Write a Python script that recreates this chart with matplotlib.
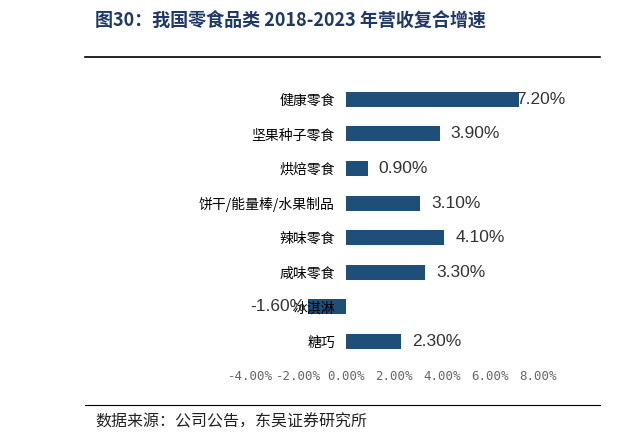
import matplotlib
matplotlib.use("Agg")
import matplotlib.pyplot as plt
from matplotlib.lines import Line2D

plt.rcParams['font.family'] = ['Noto Sans CJK SC', 'DejaVu Sans']

categories = ["健康零食", "坚果种子零食", "烘焙零食", "饼干/能量棒/水果制品", "辣味零食", "咸味零食", "冰淇淋", "糖巧"]
values = [7.20, 3.90, 0.90, 3.10, 4.10, 3.30, -1.60, 2.30]
xticks = [-4, -2, 0, 2, 4, 6, 8]

fig = plt.figure(figsize=(6.22, 4.43), dpi=100)
ax = fig.add_axes([0.402, 0.190, 0.463, 0.625])
y = list(range(len(categories)))
ax.barh(y, values, height=0.43, color="#1F4E79")
ax.set_xlim(-4, 8)
ax.set_ylim(len(categories) - 0.5, -0.5)
ax.set_xticks(xticks)
ax.set_xticklabels([f"{v:.2f}%" for v in xticks], color="#666666", fontsize=9, family=['DejaVu Sans Mono'])
ax.set_yticks(y)
ax.set_yticklabels(categories, fontsize=9, color="#222222")
ax.spines['left'].set_position(('data', 0))
for s in ['left', 'right', 'top', 'bottom']:
    ax.spines[s].set_visible(False)
ax.tick_params(axis='both', length=0)
ax.tick_params(axis='y', pad=8)
ax.tick_params(axis='x', pad=8)
for yi, v in zip(y, values):
    if v >= 0:
        off = 0.45 if v < 7 else -0.1
        ax.text(v + off, yi, f"{v:.2f}%", va='center', ha='left', fontsize=12.5, color="#333333", family=['Liberation Sans'])
    else:
        ax.text(v - 0.1, yi, f"{v:.2f}%", va='center', ha='right', fontsize=12.5, color="#333333", family=['Liberation Sans'])

fig.text(0.153, 0.955, "图30：我国零食品类 2018-2023 年营收复合增速", fontsize=13, fontweight='bold', color="#1F3864", va='center')
fig.add_artist(Line2D([0.137, 0.965], [0.871, 0.871], color='black', lw=1.2))
fig.add_artist(Line2D([0.137, 0.965], [0.086, 0.086], color='black', lw=0.8))
fig.text(0.153, 0.048, "数据来源：公司公告，东吴证券研究所", fontsize=11.5, color="#222222", va='center')
fig.savefig("out.png", dpi=100)
